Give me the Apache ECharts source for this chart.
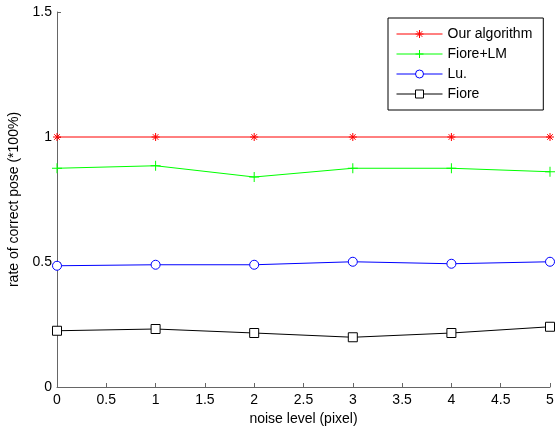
<!DOCTYPE html>
<html>
<head>
<meta charset="utf-8">
<script src="https://cdn.jsdelivr.net/npm/echarts@6/dist/echarts.min.js"></script>
<style>
  html, body { margin: 0; padding: 0; background: #fff; }
  #chart { width: 555px; height: 429px; }
</style>
</head>
<body>
<div id="chart"></div>
<script>
const noiseLevels = [0, 1, 2, 3, 4, 5];
const ourAlgorithm = [1, 1, 1, 1, 1, 1];
const fioreLM = [0.875, 0.885, 0.84, 0.875, 0.875, 0.861];
const luRate = [0.485, 0.489, 0.489, 0.501, 0.493, 0.501];
const fioreRate = [0.225, 0.232, 0.216, 0.199, 0.216, 0.241];
const xTicks = { min: 0, max: 5, step: 0.5 };
const yTicks = { min: 0, max: 1.5, step: 0.5 };

const starPath = 'path://M5,0 L5,10 M0,5 L10,5 M1.5,1.5 L8.5,8.5 M8.5,1.5 L1.5,8.5';
const plusPath = 'path://M5,0 L5,10 M0,5 L10,5';

function pairs(vals) {
  return noiseLevels.map((x, i) => [x, vals[i]]);
}

function makeSeries(name, vals, color, symbol, size, fill) {
  return {
    name: name,
    type: 'line',
    data: pairs(vals),
    symbol: symbol,
    symbolSize: size,
    showAllSymbol: true,
    lineStyle: { color: color, width: 1 },
    itemStyle: { color: fill, borderColor: color, borderWidth: 1 },
    emphasis: { disabled: true },
    animation: false
  };
}

const chart = echarts.init(document.getElementById('chart'));
const axisText = { color: '#000', fontFamily: 'Liberation Sans', fontSize: 14 };

chart.setOption({
  backgroundColor: '#fff',
  grid: { left: 57, right: 5, top: 12, bottom: 42, outerBoundsMode: 'none' },
  legend: {
    orient: 'vertical',
    left: 388,
    top: 18,
    padding: [9, 11, 9, 8],
    itemWidth: 46,
    itemHeight: 10,
    itemGap: 6,
    borderColor: '#000',
    borderWidth: 1,
    backgroundColor: '#fff',
    lineStyle: { width: 1 },
    itemStyle: { borderWidth: 1 },
    textStyle: { color: '#000', fontFamily: 'Liberation Sans', fontSize: 14 },
    data: ['Our algorithm', 'Fiore+LM', 'Lu.', 'Fiore']
  },
  xAxis: {
    type: 'value',
    min: xTicks.min,
    max: xTicks.max,
    interval: xTicks.step,
    name: 'noise level (pixel)',
    nameLocation: 'middle',
    nameGap: 25,
    nameTextStyle: axisText,
    axisLine: { show: true, lineStyle: { color: '#666', width: 1 } },
    axisTick: { show: true, inside: true, length: 4, lineStyle: { color: '#666' } },
    axisLabel: Object.assign({ margin: 6 }, axisText),
    splitLine: { show: false }
  },
  yAxis: {
    type: 'value',
    min: yTicks.min,
    max: yTicks.max,
    interval: yTicks.step,
    name: 'rate of correct pose (*100%)',
    nameLocation: 'middle',
    nameGap: 35,
    nameTextStyle: axisText,
    axisLine: { show: true, lineStyle: { color: '#666', width: 1 } },
    axisTick: { show: true, inside: true, length: 4, lineStyle: { color: '#666' } },
    axisLabel: Object.assign({ margin: 5 }, axisText),
    splitLine: { show: false }
  },
  series: [
    makeSeries('Our algorithm', ourAlgorithm, '#ff0000', starPath, 8, 'none'),
    makeSeries('Fiore+LM', fioreLM, '#00ff00', plusPath, 10, 'none'),
    makeSeries('Lu.', luRate, '#0000ff', 'circle', 9, '#fff'),
    makeSeries('Fiore', fioreRate, '#000000', 'rect', 9, '#fff')
  ]
});
</script>
</body>
</html>
